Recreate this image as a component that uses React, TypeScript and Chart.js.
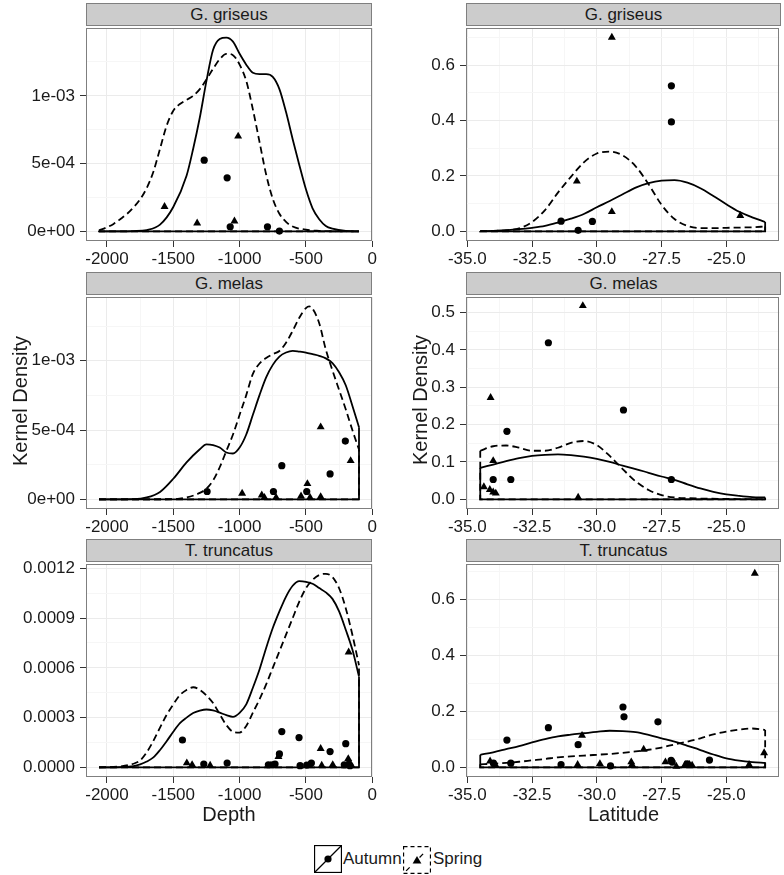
import React, { useEffect, useRef } from 'react';
import { Chart, registerables } from 'chart.js';

Chart.register(...registerables);

type Pt = [number, number];

// ---------------- tick values & labels ----------------
const depthTicks = [-2000, -1500, -1000, -500, 0];
const depthTickLabels = ['-2000', '-1500', '-1000', '-500', '0'];
const depthMinorTicks = [-1750, -1250, -750, -250];
const latTicks = [-35, -32.5, -30, -27.5, -25];
const latTickLabels = ['-35.0', '-32.5', '-30.0', '-27.5', '-25.0'];
const latMinorTicks = [-33.75, -31.25, -28.75, -26.25, -23.75];

const sciTicks = [0, 5e-4, 1e-3];
const sciTickLabels = ['0e+00', '5e-04', '1e-03'];
const sciMinorTicks = [2.5e-4, 7.5e-4, 1.25e-3];
const truncDepthTicks = [0, 3e-4, 6e-4, 9e-4, 1.2e-3];
const truncDepthTickLabels = ['0.0000', '0.0003', '0.0006', '0.0009', '0.0012'];
const truncDepthMinorTicks = [1.5e-4, 4.5e-4, 7.5e-4, 1.05e-3];
const latDensTicks = [0, 0.2, 0.4, 0.6];
const latDensTickLabels = ['0.0', '0.2', '0.4', '0.6'];
const latDensMinorTicks = [0.1, 0.3, 0.5, 0.7];
const melasLatTicks = [0, 0.1, 0.2, 0.3, 0.4, 0.5];
const melasLatTickLabels = ['0.0', '0.1', '0.2', '0.3', '0.4', '0.5'];
const melasLatMinorTicks = [0.05, 0.15, 0.25, 0.35, 0.45];

const species = ['G. griseus', 'G. melas', 'T. truncatus'];
const seasons = ['Autumn', 'Spring'];

// ---------------- G. griseus : Depth ----------------
const griseusDepthAutumn: Pt[] = [
  [-2060, 0], [-1900, 0], [-1800, 2e-6], [-1700, 1e-5], [-1600, 5e-5], [-1500, 1.8e-4],
  [-1400, 4.1e-4], [-1350, 6.1e-4], [-1300, 8.4e-4], [-1250, 1.11e-3], [-1200, 1.34e-3],
  [-1150, 1.42e-3], [-1100, 1.43e-3], [-1050, 1.4e-3], [-1000, 1.31e-3], [-950, 1.23e-3],
  [-900, 1.17e-3], [-850, 1.16e-3], [-800, 1.16e-3], [-750, 1.14e-3], [-700, 1.05e-3],
  [-650, 8.8e-4], [-600, 6.8e-4], [-550, 4.9e-4], [-500, 3.1e-4], [-450, 1.7e-4],
  [-400, 9e-5], [-350, 4e-5], [-300, 2e-5], [-200, 3e-6], [-100, 0],
];
const griseusDepthSpring: Pt[] = [
  [-2060, 7e-6], [-2000, 3e-5], [-1950, 5.5e-5], [-1900, 9e-5], [-1850, 1.28e-4], [-1800, 1.77e-4],
  [-1750, 2.37e-4], [-1700, 3.2e-4], [-1650, 4.4e-4], [-1600, 6.1e-4], [-1550, 7.8e-4],
  [-1500, 8.9e-4], [-1450, 9.4e-4], [-1400, 9.7e-4], [-1350, 1.0e-3], [-1300, 1.05e-3],
  [-1250, 1.12e-3], [-1200, 1.2e-3], [-1150, 1.27e-3], [-1100, 1.31e-3], [-1050, 1.3e-3],
  [-1000, 1.23e-3], [-950, 1.11e-3], [-900, 9.0e-4], [-850, 6.6e-4], [-800, 4.2e-4],
  [-750, 2.4e-4], [-700, 1.3e-4], [-650, 7e-5], [-600, 3.6e-5], [-500, 1.2e-5],
  [-400, 4e-6], [-300, 1e-6], [-100, 0],
];
const griseusDepthAutumnPts: Pt[] = [
  [-1267, 5.25e-4], [-1094, 3.95e-4], [-1071, 3.4e-5], [-790, 3.4e-5], [-700, 2e-6],
];
const griseusDepthSpringPts: Pt[] = [
  [-1566, 1.82e-4], [-1320, 6.1e-5], [-1039, 7.5e-5], [-1011, 7.02e-4],
];

// ---------------- G. griseus : Latitude ----------------
const griseusLatAutumn: Pt[] = [
  [-34.5, 0.001], [-34, 0.002], [-33.5, 0.005], [-33, 0.008], [-32.5, 0.013], [-32, 0.02],
  [-31.5, 0.032], [-31, 0.046], [-30.5, 0.063], [-30, 0.087], [-29.5, 0.11], [-29, 0.134],
  [-28.5, 0.158], [-28, 0.174], [-27.5, 0.183], [-27, 0.185], [-26.5, 0.176], [-26, 0.156],
  [-25.5, 0.128], [-25, 0.098], [-24.5, 0.071], [-24, 0.051], [-23.5, 0.034],
];
const griseusLatSpring: Pt[] = [
  [-34.5, 0.001], [-34, 0.002], [-33.5, 0.004], [-33, 0.011], [-32.5, 0.034], [-32, 0.077],
  [-31.5, 0.14], [-31, 0.197], [-30.5, 0.249], [-30, 0.281], [-29.5, 0.288], [-29, 0.274],
  [-28.5, 0.235], [-28, 0.17], [-27.5, 0.096], [-27, 0.045], [-26.5, 0.02], [-26, 0.012],
  [-25.5, 0.012], [-25, 0.013], [-24.5, 0.014], [-24, 0.015], [-23.5, 0.018],
];
const griseusLatAutumnPts: Pt[] = [
  [-27.12, 0.525], [-27.12, 0.395], [-31.38, 0.037], [-30.17, 0.036], [-30.72, 0.004],
];
const griseusLatSpringPts: Pt[] = [
  [-29.42, 0.7], [-30.77, 0.181], [-29.42, 0.071], [-24.46, 0.057],
];

// ---------------- G. melas : Depth ----------------
const melasDepthAutumn: Pt[] = [
  [-2060, 0], [-1800, 2e-6], [-1700, 1.4e-5], [-1600, 5.4e-5], [-1500, 1.49e-4], [-1400, 2.67e-4],
  [-1300, 3.62e-4], [-1250, 3.97e-4], [-1200, 3.92e-4], [-1150, 3.74e-4], [-1100, 3.38e-4],
  [-1050, 3.31e-4], [-1000, 3.74e-4], [-950, 4.68e-4], [-900, 6.1e-4], [-850, 7.52e-4],
  [-800, 8.8e-4], [-750, 9.7e-4], [-700, 1.03e-3], [-650, 1.059e-3], [-600, 1.071e-3],
  [-550, 1.066e-3], [-500, 1.059e-3], [-450, 1.047e-3], [-400, 1.035e-3], [-350, 1.017e-3],
  [-300, 9.83e-4], [-250, 9.17e-4], [-200, 8.23e-4], [-150, 6.76e-4], [-100, 5.2e-4],
];
const melasDepthSpring: Pt[] = [
  [-2060, 0], [-1500, 2e-6], [-1400, 1.4e-5], [-1300, 4.7e-5], [-1250, 7.8e-5], [-1200, 1.37e-4],
  [-1150, 2.32e-4], [-1100, 3.5e-4], [-1050, 4.68e-4], [-1000, 6.1e-4], [-950, 7.52e-4],
  [-900, 9.05e-4], [-850, 9.8e-4], [-800, 1.02e-3], [-750, 1.047e-3], [-700, 1.07e-3],
  [-650, 1.13e-3], [-600, 1.215e-3], [-550, 1.31e-3], [-500, 1.38e-3], [-475, 1.392e-3],
  [-450, 1.375e-3], [-400, 1.27e-3], [-350, 1.08e-3], [-300, 9.3e-4], [-250, 7.9e-4],
  [-200, 6.5e-4], [-150, 5.0e-4], [-100, 3.6e-4],
];
const melasDepthAutumnPts: Pt[] = [
  [-203, 4.21e-4], [-682, 2.43e-4], [-318, 1.84e-4], [-1245, 5.7e-5], [-745, 5.7e-5], [-494, 5.7e-5],
];
const melasDepthSpringPts: Pt[] = [
  [-389, 5.22e-4], [-489, 1.13e-4], [-163, 2.79e-4], [-981, 4.3e-5], [-833, 3.1e-5],
  [-813, 1.4e-5], [-725, 1.4e-5], [-537, 2.4e-5], [-469, 1.4e-5], [-389, 1.9e-5],
];

// ---------------- G. melas : Latitude ----------------
const melasLatAutumn: Pt[] = [
  [-34.5, 0.084], [-34, 0.093], [-33.5, 0.102], [-33, 0.11], [-32.5, 0.116], [-32, 0.119],
  [-31.5, 0.12], [-31, 0.118], [-30.5, 0.114], [-30, 0.108], [-29.5, 0.1], [-29, 0.09],
  [-28.5, 0.081], [-28, 0.071], [-27.5, 0.061], [-27, 0.052], [-26.5, 0.04], [-26, 0.029],
  [-25.5, 0.02], [-25, 0.013], [-24.5, 0.009], [-24, 0.006], [-23.5, 0.005],
];
const melasLatSpring: Pt[] = [
  [-34.5, 0.13], [-34, 0.142], [-33.5, 0.144], [-33, 0.138], [-32.5, 0.13], [-32, 0.13],
  [-31.5, 0.138], [-31, 0.151], [-30.5, 0.156], [-30, 0.145], [-29.5, 0.116], [-29, 0.081],
  [-28.5, 0.048], [-28, 0.025], [-27.5, 0.011], [-27, 0.005], [-26.5, 0.003], [-26, 0.002],
  [-25, 0.001], [-23.5, 0],
];
const melasLatAutumnPts: Pt[] = [
  [-31.87, 0.419], [-28.97, 0.239], [-33.47, 0.182], [-34.0, 0.053], [-33.32, 0.053], [-27.12, 0.053],
];
const melasLatSpringPts: Pt[] = [
  [-30.54, 0.518], [-34.1, 0.272], [-34.0, 0.103], [-34.36, 0.033], [-34.13, 0.026],
  [-34.0, 0.019], [-33.9, 0.016], [-30.72, 0.005],
];

// ---------------- T. truncatus : Depth ----------------
const truncDepthAutumn: Pt[] = [
  [-2060, 0], [-1900, 2e-6], [-1800, 8e-6], [-1750, 1.8e-5], [-1700, 3.5e-5], [-1650, 6e-5],
  [-1600, 1.05e-4], [-1550, 1.58e-4], [-1500, 2.15e-4], [-1450, 2.67e-4], [-1400, 3.0e-4],
  [-1350, 3.28e-4], [-1300, 3.42e-4], [-1250, 3.49e-4], [-1200, 3.43e-4], [-1150, 3.3e-4],
  [-1100, 3.15e-4], [-1050, 3.05e-4], [-1000, 3.29e-4], [-950, 3.8e-4], [-900, 4.8e-4],
  [-850, 5.9e-4], [-800, 7.2e-4], [-750, 8.4e-4], [-700, 9.4e-4], [-650, 1.03e-3],
  [-600, 1.095e-3], [-550, 1.123e-3], [-500, 1.119e-3], [-450, 1.107e-3], [-400, 1.081e-3],
  [-350, 1.055e-3], [-300, 1.016e-3], [-250, 9.4e-4], [-200, 8.3e-4], [-150, 7.1e-4],
  [-100, 5.47e-4],
];
const truncDepthSpring: Pt[] = [
  [-2060, 0], [-1900, 6e-6], [-1800, 2.2e-5], [-1750, 4.2e-5], [-1700, 9.1e-5], [-1650, 1.6e-4],
  [-1600, 2.4e-4], [-1550, 3.17e-4], [-1500, 3.8e-4], [-1450, 4.36e-4], [-1400, 4.67e-4],
  [-1350, 4.83e-4], [-1300, 4.67e-4], [-1200, 3.88e-4], [-1150, 3.2e-4], [-1100, 2.55e-4],
  [-1050, 2.15e-4], [-1000, 2.1e-4], [-950, 2.5e-4], [-900, 3.3e-4], [-850, 4.1e-4],
  [-800, 5.0e-4], [-750, 6.0e-4], [-700, 7.0e-4], [-650, 8.0e-4], [-600, 9.0e-4],
  [-550, 1.0e-3], [-500, 1.08e-3], [-450, 1.13e-3], [-400, 1.16e-3], [-350, 1.167e-3],
  [-300, 1.147e-3], [-250, 1.08e-3], [-200, 9.6e-4], [-150, 8.0e-4], [-100, 6.16e-4],
];
const truncDepthAutumnPts: Pt[] = [
  [-1431, 1.65e-4], [-1270, 2e-5], [-1094, 2.6e-5], [-783, 1.6e-5], [-750, 1.6e-5], [-733, 2e-5],
  [-682, 2.16e-4], [-552, 1.8e-4], [-700, 8.1e-5], [-544, 1e-5], [-494, 1.4e-5], [-459, 2.6e-5],
  [-318, 9.5e-5], [-200, 1.43e-4], [-211, 1.6e-5], [-168, 1e-5],
];
const truncDepthSpringPts: Pt[] = [
  [-1398, 2.6e-5], [-1358, 1.6e-5], [-1222, 1.2e-5], [-765, 1e-5], [-707, 6.5e-5], [-474, 1.2e-5],
  [-389, 1.13e-4], [-381, 1.2e-5], [-298, 1.6e-5], [-178, 6.95e-4], [-181, 5.2e-5], [-176, 3.1e-5],
  [-193, 1.2e-5], [-160, 1.6e-5],
];

// ---------------- T. truncatus : Latitude ----------------
const truncLatAutumn: Pt[] = [
  [-34.5, 0.045], [-34, 0.054], [-33.5, 0.065], [-33, 0.076], [-32.5, 0.089], [-32, 0.101],
  [-31.5, 0.111], [-31, 0.117], [-30.5, 0.122], [-30, 0.127], [-29.5, 0.131], [-29, 0.13],
  [-28.5, 0.126], [-28, 0.116], [-27.5, 0.104], [-27, 0.092], [-26.5, 0.077], [-26, 0.062],
  [-25.5, 0.046], [-25, 0.032], [-24.5, 0.024], [-24, 0.019], [-23.5, 0.016],
];
const truncLatSpring: Pt[] = [
  [-34.5, 0.011], [-34, 0.013], [-33.5, 0.016], [-33, 0.02], [-32.5, 0.025], [-32, 0.03],
  [-31.5, 0.036], [-31, 0.039], [-30.5, 0.042], [-30, 0.045], [-29.5, 0.048], [-29, 0.052],
  [-28.5, 0.057], [-28, 0.063], [-27.5, 0.071], [-27, 0.082], [-26.5, 0.092], [-26, 0.104],
  [-25.5, 0.118], [-25, 0.128], [-24.5, 0.135], [-24, 0.139], [-23.5, 0.134],
];
const truncLatAutumnPts: Pt[] = [
  [-28.99, 0.216], [-28.95, 0.181], [-33.47, 0.0975], [-31.87, 0.142], [-30.72, 0.081],
  [-27.64, 0.163], [-25.65, 0.026], [-33.99, 0.015], [-33.32, 0.015], [-31.38, 0.0095],
  [-29.47, 0.005], [-27.13, 0.025], [-27.09, 0.019], [-26.51, 0.013],
];
const truncLatSpringPts: Pt[] = [
  [-23.9, 0.694], [-30.57, 0.114], [-28.19, 0.064], [-23.54, 0.052], [-24.12, 0.0095],
  [-34.12, 0.022], [-33.92, 0.0095], [-30.74, 0.0095], [-29.88, 0.013], [-28.67, 0.019],
  [-28.64, 0.0095], [-27.35, 0.019], [-26.93, 0.0035], [-26.59, 0.0095], [-26.42, 0.0095],
  [-26.32, 0.007],
];

// ---------------- styling ----------------
const FONT = '"Liberation Sans", Arial, Helvetica, sans-serif';
const TEXT = '#1a1a1a';
const BORDER = '#7f7f7f';
const GRID_MAJOR = '#ebebeb';
const GRID_MINOR = '#f6f6f6';
const PAD_T = 12;
const X_AXIS_H = 34;

const near = (a: number, b: number) => Math.abs(a - b) <= Math.abs(b) * 1e-6 + 1e-12;

const panelBorder = {
  id: 'panelBorder',
  afterDatasetsDraw(chart: any) {
    const { ctx, chartArea } = chart;
    const { left, top, right, bottom } = chartArea;
    ctx.save();
    ctx.strokeStyle = BORDER;
    ctx.lineWidth = 1;
    ctx.strokeRect(Math.round(left) + 0.5, Math.round(top) + 0.5, Math.round(right - left) - 1, Math.round(bottom - top) - 1);
    ctx.restore();
  },
};

type PanelProps = {
  left: number; top: number; width: number; height: number; yAxisWidth: number; padRight: number;
  xMin: number; xMax: number; yMin: number; yMax: number;
  xTicks: number[]; xLabels: string[]; xMinor: number[];
  yTicks: number[]; yLabels: string[]; yMinor: number[];
  autumn: Pt[]; spring: Pt[]; autumnPts: Pt[]; springPts: Pt[];
};

function outline(curve: Pt[]) {
  const a = curve[0];
  const b = curve[curve.length - 1];
  return [{ x: a[0], y: a[1] }, { x: a[0], y: 0 }, { x: b[0], y: 0 }, { x: b[0], y: b[1] }];
}

function axis(ticks: number[], labels: string[], minor: number[], min: number, max: number, isX: boolean, size: number, pad: number) {
  const isMinor = (v: number) => minor.some((m) => near(v, m));
  return {
    type: 'linear',
    min,
    max,
    afterBuildTicks: (s: any) => {
      s.ticks = [...ticks, ...minor].sort((a, b) => a - b).map((v) => ({ value: v }));
    },
    afterFit: (s: any) => {
      if (isX) s.height = size; else s.width = size;
    },
    ticks: {
      autoSkip: false,
      maxRotation: 0,
      minRotation: 0,
      padding: pad,
      color: TEXT,
      font: { family: FONT, size: 17 },
      callback: (v: number) => {
        const i = ticks.findIndex((t) => near(v, t));
        return i >= 0 ? labels[i] : '';
      },
    },
    grid: {
      color: (c: any) => (c.tick && isMinor(c.tick.value) ? GRID_MINOR : GRID_MAJOR),
      tickColor: (c: any) => (c.tick && isMinor(c.tick.value) ? 'rgba(0,0,0,0)' : '#333333'),
      tickLength: 6,
      lineWidth: 1,
    },
    border: { display: false },
  };
}

function Panel(p: PanelProps) {
  const ref = useRef<HTMLCanvasElement | null>(null);
  useEffect(() => {
    if (!ref.current) return;
    const toXY = (arr: Pt[]) => arr.map(([x, y]) => ({ x, y }));
    const lineBase = { showLine: true, pointRadius: 0, borderColor: '#000', borderWidth: 1.8, fill: false };
    const chart = new Chart(ref.current, {
      type: 'scatter',
      data: {
        datasets: [
          { label: seasons[0], data: toXY(p.autumnPts), pointStyle: 'circle', pointRadius: 3.6, backgroundColor: '#000', borderWidth: 0 },
          { label: seasons[1], data: toXY(p.springPts), pointStyle: 'triangle', pointRadius: 4.6, backgroundColor: '#000', borderWidth: 0 },
          { ...lineBase, label: seasons[0] + ' density', data: toXY(p.autumn), cubicInterpolationMode: 'monotone' },
          { ...lineBase, label: seasons[0] + ' edge', data: outline(p.autumn), tension: 0 },
          { ...lineBase, label: seasons[1] + ' density', data: toXY(p.spring), cubicInterpolationMode: 'monotone', borderDash: [7, 4] },
          { ...lineBase, label: seasons[1] + ' edge', data: outline(p.spring), tension: 0, borderDash: [7, 4] },
        ] as any,
      },
      options: {
        animation: false,
        responsive: false,
        maintainAspectRatio: false,
        devicePixelRatio: 1,
        events: [],
        layout: { padding: { top: PAD_T, right: p.padRight, left: 0, bottom: 0 } },
        plugins: { legend: { display: false }, tooltip: { enabled: false }, title: { display: false } },
        scales: {
          x: axis(p.xTicks, p.xLabels, p.xMinor, p.xMin, p.xMax, true, X_AXIS_H, 2) as any,
          y: axis(p.yTicks, p.yLabels, p.yMinor, p.yMin, p.yMax, false, p.yAxisWidth, 5) as any,
        },
      },
      plugins: [panelBorder],
    });
    return () => chart.destroy();
  }, []);
  return (
    <canvas
      ref={ref}
      width={p.width}
      height={p.height}
      style={{ position: 'absolute', left: p.left, top: p.top, width: p.width, height: p.height }}
    />
  );
}

const COL_L = { canvasLeft: 0, width: 384, plotLeft: 86, plotRight: 372 };
const COL_R = { canvasLeft: 392, width: 392, plotLeft: 466, plotRight: 781 };
const ROWS = [
  { plotTop: 25, h: 216 },
  { plotTop: 294, h: 215 },
  { plotTop: 561, h: 216 },
];

function Strip({ left, top, width, text }: { left: number; top: number; width: number; text: string }) {
  return (
    <div
      style={{
        position: 'absolute', left, top, width, height: 23, boxSizing: 'border-box',
        background: '#cccccc', border: `1px solid ${BORDER}`, color: TEXT,
        fontFamily: FONT, fontSize: 17, lineHeight: '21px', textAlign: 'center', whiteSpace: 'nowrap',
      }}
    >
      {text}
    </div>
  );
}

export default function App() {
  const left = [
    { autumn: griseusDepthAutumn, spring: griseusDepthSpring, autumnPts: griseusDepthAutumnPts, springPts: griseusDepthSpringPts, yMin: -7.1e-5, yMax: 1.499e-3, yTicks: sciTicks, yLabels: sciTickLabels, yMinor: sciMinorTicks },
    { autumn: melasDepthAutumn, spring: melasDepthSpring, autumnPts: melasDepthAutumnPts, springPts: melasDepthSpringPts, yMin: -6.9e-5, yMax: 1.458e-3, yTicks: sciTicks, yLabels: sciTickLabels, yMinor: sciMinorTicks },
    { autumn: truncDepthAutumn, spring: truncDepthSpring, autumnPts: truncDepthAutumnPts, springPts: truncDepthSpringPts, yMin: -5.8e-5, yMax: 1.225e-3, yTicks: truncDepthTicks, yLabels: truncDepthTickLabels, yMinor: truncDepthMinorTicks },
  ];
  const right = [
    { autumn: griseusLatAutumn, spring: griseusLatSpring, autumnPts: griseusLatAutumnPts, springPts: griseusLatSpringPts, yMin: -0.0345, yMax: 0.733, yTicks: latDensTicks, yLabels: latDensTickLabels, yMinor: latDensMinorTicks },
    { autumn: melasLatAutumn, spring: melasLatSpring, autumnPts: melasLatAutumnPts, springPts: melasLatSpringPts, yMin: -0.026, yMax: 0.541, yTicks: melasLatTicks, yLabels: melasLatTickLabels, yMinor: melasLatMinorTicks },
    { autumn: truncLatAutumn, spring: truncLatSpring, autumnPts: truncLatAutumnPts, springPts: truncLatSpringPts, yMin: -0.0345, yMax: 0.727, yTicks: latDensTicks, yLabels: latDensTickLabels, yMinor: latDensMinorTicks },
  ];

  const titleStyle: React.CSSProperties = { position: 'absolute', fontFamily: FONT, fontSize: 20, color: TEXT, textAlign: 'center', lineHeight: '24px', whiteSpace: 'nowrap' };

  return (
    <div style={{ position: 'absolute', left: 0, top: 0, width: 784, height: 875, background: '#fff', overflow: 'hidden' }}>
      {ROWS.map((r, i) => (
        <React.Fragment key={i}>
          <Panel
            left={COL_L.canvasLeft} top={r.plotTop - PAD_T} width={COL_L.width} height={PAD_T + r.h + X_AXIS_H}
            yAxisWidth={COL_L.plotLeft - COL_L.canvasLeft} padRight={COL_L.canvasLeft + COL_L.width - COL_L.plotRight}
            xMin={-2158} xMax={-2} xTicks={depthTicks} xLabels={depthTickLabels} xMinor={depthMinorTicks}
            {...left[i]}
          />
          <Panel
            left={COL_R.canvasLeft} top={r.plotTop - PAD_T} width={COL_R.width} height={PAD_T + r.h + X_AXIS_H}
            yAxisWidth={COL_R.plotLeft - COL_R.canvasLeft} padRight={COL_R.canvasLeft + COL_R.width - COL_R.plotRight}
            xMin={-35.05} xMax={-22.95} xTicks={latTicks} xLabels={latTickLabels} xMinor={latMinorTicks}
            {...right[i]}
          />
          <Strip left={COL_L.plotLeft} top={r.plotTop - 22} width={COL_L.plotRight - COL_L.plotLeft} text={species[i]} />
          <Strip left={COL_R.plotLeft} top={r.plotTop - 22} width={COL_R.plotRight - COL_R.plotLeft} text={species[i]} />
        </React.Fragment>
      ))}

      <div style={{ ...titleStyle, left: COL_L.plotLeft, width: COL_L.plotRight - COL_L.plotLeft, top: 802 }}>Depth</div>
      <div style={{ ...titleStyle, left: COL_R.plotLeft, width: COL_R.plotRight - COL_R.plotLeft, top: 802 }}>Latitude</div>
      <div style={{ ...titleStyle, left: 20 - 150, top: 401 - 12, width: 300, transform: 'rotate(-90deg)' }}>Kernel Density</div>
      <div style={{ ...titleStyle, left: 420 - 150, top: 400 - 12, width: 300, transform: 'rotate(-90deg)' }}>Kernel Density</div>

      {/* legend */}
      <svg width={28} height={28} style={{ position: 'absolute', left: 314, top: 845 }}>
        <rect x={0.5} y={0.5} width={27} height={27} fill="#fff" stroke="#000" strokeWidth={1.3} />
        <line x1={1} y1={27} x2={27} y2={1} stroke="#000" strokeWidth={1.3} />
        <circle cx={14} cy={14} r={3.6} fill="#000" />
      </svg>
      <div style={{ position: 'absolute', left: 343, top: 849, fontFamily: FONT, fontSize: 17, lineHeight: '20px', color: TEXT }}>{seasons[0]}</div>
      <svg width={28} height={28} style={{ position: 'absolute', left: 403, top: 846 }}>
        <rect x={0.5} y={0.5} width={27} height={27} fill="#fff" stroke="#000" strokeWidth={1.3} strokeDasharray="4 3" />
        <line x1={1} y1={27} x2={27} y2={1} stroke="#000" strokeWidth={1.3} strokeDasharray="5 14" strokeDashoffset={-3} />
        <polygon points="14,10 18.4,17.5 9.6,17.5" fill="#000" />
      </svg>
      <div style={{ position: 'absolute', left: 433, top: 849, fontFamily: FONT, fontSize: 17, lineHeight: '20px', color: TEXT }}>{seasons[1]}</div>
    </div>
  );
}
